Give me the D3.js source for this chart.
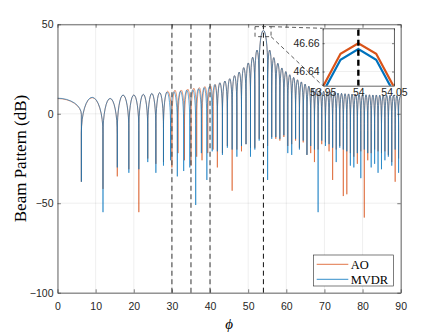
<!DOCTYPE html>
<html>
<head>
<meta charset="utf-8">
<script src="https://cdn.jsdelivr.net/npm/d3@7"></script>
<style>
body { margin: 0; background: #fff; }
svg { display: block; }
</style>
</head>
<body>
<div id="chart"></div>
<script>
// ---- data ----
var xTicks = [0, 10, 20, 30, 40, 50, 60, 70, 80, 90],
    yTicks = [-100, -50, 0, 50],
    interferers = [30, 35, 40],
    target = 54;

// null angles (deg) of each pattern
var mvdrNulls = [6.26, 11.93, 15.68, 18.71, 21.33, 23.67, 25.80, 27.79, 29.65, 31.42,
    33.09, 34.70, 36.24, 37.73, 39.17, 40.57, 41.92, 43.25, 44.54, 45.80,
    47.04, 48.25, 49.44, 50.61, 51.75, 52.89, 55.10, 56.18, 57.25, 58.31,
    59.36, 60.39, 61.42, 62.43, 63.44, 64.44, 65.42, 66.40, 67.38, 68.34,
    69.30, 70.26, 71.21, 72.15, 73.09, 74.02, 74.95, 75.87, 76.80, 77.71,
    78.63, 79.54, 80.45, 81.36, 82.26, 83.16, 84.06, 84.96, 85.86, 86.76,
    87.66, 88.55, 89.45];
var aoNulls = [6.26, 11.93, 15.68, 18.71, 21.33, 23.67, 25.80, 27.79, 30.00, 31.60,
    33.30, 35.00, 36.50, 37.90, 39.40, 40.80, 41.92, 43.25, 44.54, 45.80,
    47.04, 48.25, 49.44, 50.61, 51.75, 52.89, 55.10, 56.18, 57.25, 58.31,
    59.36, 60.39, 61.42, 62.43, 63.44, 64.44, 65.42, 66.40, 67.38, 68.34,
    69.30, 70.26, 71.21, 72.15, 73.09, 74.02, 74.95, 75.87, 76.80, 77.71,
    78.63, 79.54, 80.45, 81.36, 82.26, 83.16, 84.06, 84.96, 85.86, 86.76,
    87.66, 88.55, 89.45];

// depth (dB) at each null
var mvdrDepths = [-38, -55, -30, -33, -31, -27, -33, -29, -26, -35,
    -32, -30, -51, -22, -37, -21, -21, -23, -19, -20,
    -24, -18, -17, -24, -20, -15, -37, -14, -13, -14,
    -12, -22, -23, -14, -20, -15, -23, -18, -20, -55,
    -15, -18, -17, -19, -27, -19, -20, -21, -29, -30,
    -22, -36, -20, -22, -30, -28, -33, -31, -26, -24,
    -29, -20, -33];
var aoDepths = [-38, -42, -35, -31, -55, -25, -28, -27, -30, -22,
    -26, -29, -24, -26, -22, -20, -30, -22, -18, -43,
    -20, -21, -17, -19, -19, -14, -18, -13, -14, -15,
    -13, -18, -17, -15, -19, -16, -23, -22, -27, -20,
    -17, -16, -21, -37, -20, -18, -46, -45, -22, -24,
    -28, -21, -58, -26, -22, -20, -21, -22, -21, -23,
    -27, -38, -25];

// peak level (dB) of each lobe, lobe 0 runs from 0 deg to the first null
var mvdrPeaks = [8.7, 9.2, 8.6, 10.5, 10.5, 10.9, 11.4, 11.8, 12.2, 12.3,
    12.6, 13.2, 13.4, 14.0, 14.6, 15.2, 16.3, 17.3, 18.3, 19.6,
    21.3, 23.3, 25.8, 28.4, 31.6, 35.6, 46.66, 35.6, 31.4, 28.2,
    25.6, 23.6, 21.8, 20.3, 19.0, 17.8, 16.6, 15.4, 14.4, 13.6,
    13.0, 12.6, 12.3, 12.0, 11.8, 11.6, 11.4, 11.2, 11.1, 11.0,
    10.9, 10.8, 10.7, 10.6, 10.6, 10.5, 10.5, 10.4, 10.4, 10.3,
    10.3, 10.2, 10.2, 10.0];
var aoPeaks = [8.5, 9.0, 8.5, 10.4, 10.5, 10.8, 11.3, 11.8, 12.6, 13.2,
    13.3, 13.8, 14.3, 14.6, 15.2, 15.6, 16.4, 17.3, 18.3, 19.6,
    21.3, 23.3, 25.8, 28.4, 31.6, 35.6, 46.66, 35.6, 31.4, 28.2,
    25.6, 23.6, 21.8, 20.3, 19.0, 17.8, 16.6, 15.4, 14.4, 13.6,
    13.0, 12.6, 12.3, 12.0, 11.8, 11.6, 11.4, 11.2, 11.1, 11.0,
    10.9, 10.8, 10.7, 10.6, 10.6, 10.5, 10.5, 10.4, 10.4, 10.3,
    10.3, 10.2, 10.2, 10.0];

// zoomed inset around the main beam
var insetX = [53.95, 53.975, 54, 54.025, 54.05],
    aoInset = [46.629, 46.6525, 46.660, 46.6525, 46.629],
    mvdrInset = [46.625, 46.6483, 46.6558, 46.6483, 46.625],
    insetXTicks = [53.95, 54, 54.05],
    insetYTicks = [46.64, 46.66],
    zoomBoxX = [51.8, 56.0],
    zoomBoxY = [43.1, 48.7];

var seriesNames = ["AO", "MVDR"],
    colors = ["#D95319", "#0072BD"];

// ---- drawing ----
var width = 443, height = 332,
    plot = {left: 57.5, right: 400.7, top: 24.3, bottom: 292.7},
    ins = {left: 322.7, right: 394, top: 28.3, bottom: 85.7},
    axisColor = "#262626",
    lobeDrop = 20,   // dB between a lobe crest and where it falls straight into the null
    edgeDrop = 9;

var svg = d3.select("#chart").append("svg")
    .attr("width", width)
    .attr("height", height)
    .style("font-family", "'Liberation Sans', Arial, sans-serif");

var x = d3.scaleLinear().domain([0, 90]).range([plot.left, plot.right]),
    y = d3.scaleLinear().domain([-100, 50]).range([plot.bottom, plot.top]);

svg.append("defs").append("clipPath").attr("id", "plotclip")
    .append("rect")
    .attr("x", plot.left).attr("y", plot.top)
    .attr("width", plot.right - plot.left).attr("height", plot.bottom - plot.top);

// grid
var grid = svg.append("g").attr("stroke", axisColor).attr("stroke-opacity", 0.13).attr("stroke-width", 0.6);
grid.selectAll(".gx").data(xTicks).enter().append("line")
    .attr("x1", function (d) { return x(d); }).attr("x2", function (d) { return x(d); })
    .attr("y1", plot.top).attr("y2", plot.bottom);
grid.selectAll(".gy").data(yTicks).enter().append("line")
    .attr("y1", function (d) { return y(d); }).attr("y2", function (d) { return y(d); })
    .attr("x1", plot.left).attr("x2", plot.right);

// quarter ellipse from (x1,y1) to (x2,y2), bulging upward
function quarter(x1, y1, x2, y2) {
    return "A" + Math.abs(x2 - x1).toFixed(2) + "," + Math.abs(y2 - y1).toFixed(2) +
        " 0 0 1 " + x2.toFixed(2) + "," + y2.toFixed(2);
}

function beamPath(nulls, peaks, depths) {
    var n = nulls.length, d, i;
    var top0 = y(Math.max(peaks[0] - edgeDrop, depths[0]));
    d = "M" + x(0) + "," + y(peaks[0]) + quarter(x(0), y(peaks[0]), x(nulls[0]), top0) +
        "L" + x(nulls[0]) + "," + y(depths[0]);
    for (i = 1; i < n; i++) {
        var a = nulls[i - 1], b = nulls[i], mid = (a + b) / 2,
            yl = y(Math.max(peaks[i] - lobeDrop, depths[i - 1])),
            yr = y(Math.max(peaks[i] - lobeDrop, depths[i]));
        d += "L" + x(a) + "," + yl +
            quarter(x(a), yl, x(mid), y(peaks[i])) +
            quarter(x(mid), y(peaks[i]), x(b), yr) +
            "L" + x(b) + "," + y(depths[i]);
    }
    var last = nulls[n - 1],
        yl2 = y(Math.max(peaks[n] - edgeDrop, depths[n - 1]));
    d += "L" + x(last) + "," + yl2 + quarter(x(last), yl2, x(90), y(peaks[n]));
    return d;
}

var curves = svg.append("g").attr("clip-path", "url(#plotclip)")
    .attr("fill", "none").attr("stroke-width", 0.6).attr("stroke-linejoin", "round");
curves.append("path").attr("d", beamPath(aoNulls, aoPeaks, aoDepths)).attr("stroke", colors[0]);
curves.append("path").attr("d", beamPath(mvdrNulls, mvdrPeaks, mvdrDepths)).attr("stroke", colors[1]);

// interferer and target markers
svg.append("g").selectAll("line").data(interferers).enter().append("line")
    .attr("x1", function (d) { return x(d); }).attr("x2", function (d) { return x(d); })
    .attr("y1", plot.bottom).attr("y2", plot.top)
    .attr("stroke", "#555").attr("stroke-width", 1.2).attr("stroke-dasharray", "5,3.5");
svg.append("line")
    .attr("x1", x(target)).attr("x2", x(target))
    .attr("y1", plot.bottom).attr("y2", plot.top)
    .attr("stroke", "#111").attr("stroke-width", 1).attr("stroke-dasharray", "5,3.5");

// axes
function styleAxis(g) {
    g.select(".domain").attr("stroke", axisColor).attr("stroke-width", 0.7);
    g.selectAll(".tick line").attr("stroke", axisColor).attr("stroke-width", 0.6);
    g.selectAll(".tick text").attr("fill", axisColor).style("font-size", "10.5px");
}
svg.append("g").attr("transform", "translate(0," + plot.bottom + ")")
    .call(d3.axisBottom(x).tickValues(xTicks).tickSize(-3.4).tickSizeOuter(0).tickPadding(9.5))
    .call(styleAxis);
svg.append("g").attr("transform", "translate(0," + plot.top + ")")
    .call(d3.axisTop(x).tickValues(xTicks).tickSize(-3.4).tickSizeOuter(0).tickFormat(""))
    .call(styleAxis);
svg.append("g").attr("transform", "translate(" + plot.left + ",0)")
    .call(d3.axisLeft(y).tickValues(yTicks).tickSize(-3.4).tickSizeOuter(0).tickPadding(4))
    .call(styleAxis);
svg.append("g").attr("transform", "translate(" + plot.right + ",0)")
    .call(d3.axisRight(y).tickValues(yTicks).tickSize(-3.4).tickSizeOuter(0).tickFormat(""))
    .call(styleAxis);

// axis labels
svg.append("text")
    .attr("transform", "translate(26," + ((plot.top + plot.bottom) / 2) + ") rotate(-90)")
    .attr("text-anchor", "middle")
    .style("font-family", "'Liberation Serif', 'Times New Roman', serif")
    .style("font-size", "17px")
    .attr("fill", "#000")
    .text("Beam Pattern (dB)");
svg.append("text")
    .attr("x", (plot.left + plot.right) / 2).attr("y", 329)
    .attr("text-anchor", "middle")
    .style("font-family", "'Liberation Serif', 'Times New Roman', serif")
    .style("font-style", "italic")
    .style("font-size", "15px")
    .attr("fill", "#000")
    .text("\u03d5");

// zoom box and connectors
var dash = {"stroke": "#333", "stroke-width": 0.8, "stroke-dasharray": "4,3", "fill": "none"};
var zb = svg.append("rect")
    .attr("x", x(zoomBoxX[0])).attr("y", y(zoomBoxY[1]))
    .attr("width", x(zoomBoxX[1]) - x(zoomBoxX[0]))
    .attr("height", y(zoomBoxY[0]) - y(zoomBoxY[1]));
var c1 = svg.append("line")
    .attr("x1", x(zoomBoxX[1])).attr("y1", y(zoomBoxY[1]))
    .attr("x2", ins.left).attr("y2", ins.top);
var c2 = svg.append("line")
    .attr("x1", x(zoomBoxX[1])).attr("y1", y(zoomBoxY[0]))
    .attr("x2", ins.left).attr("y2", ins.bottom);
[zb, c1, c2].forEach(function (s) {
    for (var k in dash) s.attr(k, dash[k]);
});

// inset
var xi = d3.scaleLinear().domain([53.95, 54.05]).range([ins.left, ins.right]),
    yi = d3.scaleLinear().domain([46.63, 46.6705]).range([ins.bottom, ins.top]);

svg.append("clipPath").attr("id", "insclip")
    .append("rect")
    .attr("x", ins.left).attr("y", ins.top)
    .attr("width", ins.right - ins.left).attr("height", ins.bottom - ins.top);

var inset = svg.append("g");
inset.append("rect")
    .attr("x", ins.left).attr("y", ins.top)
    .attr("width", ins.right - ins.left).attr("height", ins.bottom - ins.top)
    .attr("fill", "#fff");
var ig = inset.append("g").attr("stroke", axisColor).attr("stroke-opacity", 0.13).attr("stroke-width", 0.6);
ig.selectAll(".ix").data(insetXTicks).enter().append("line")
    .attr("x1", function (d) { return xi(d); }).attr("x2", function (d) { return xi(d); })
    .attr("y1", ins.top).attr("y2", ins.bottom);
ig.selectAll(".iy").data(insetYTicks).enter().append("line")
    .attr("y1", function (d) { return yi(d); }).attr("y2", function (d) { return yi(d); })
    .attr("x1", ins.left).attr("x2", ins.right);

var iline = d3.line()
    .x(function (d, i) { return xi(insetX[i]); })
    .y(function (d) { return yi(d); });
var ic = inset.append("g").attr("clip-path", "url(#insclip)").attr("fill", "none")
    .attr("stroke-width", 2.2).attr("stroke-linejoin", "miter");
ic.append("path").attr("d", iline(aoInset)).attr("stroke", colors[0]);
ic.append("path").attr("d", iline(mvdrInset)).attr("stroke", colors[1]);
ic.append("line")
    .attr("x1", xi(target)).attr("x2", xi(target))
    .attr("y1", ins.bottom).attr("y2", ins.top)
    .attr("stroke", "#000").attr("stroke-width", 2.4).attr("stroke-dasharray", "6,4");

inset.append("g").attr("transform", "translate(0," + ins.bottom + ")")
    .call(d3.axisBottom(xi).tickValues(insetXTicks).tickSize(-2).tickSizeOuter(0).tickPadding(3)
        .tickFormat(d3.format("")))
    .call(styleAxis);
inset.append("g").attr("transform", "translate(0," + ins.top + ")")
    .call(d3.axisTop(xi).tickValues(insetXTicks).tickSize(-2).tickSizeOuter(0).tickFormat(""))
    .call(styleAxis);
inset.append("g").attr("transform", "translate(" + ins.left + ",0)")
    .call(d3.axisLeft(yi).tickValues(insetYTicks).tickSize(-2).tickSizeOuter(0).tickPadding(3)
        .tickFormat(d3.format(".2f")))
    .call(styleAxis);
inset.append("g").attr("transform", "translate(" + ins.right + ",0)")
    .call(d3.axisRight(yi).tickValues(insetYTicks).tickSize(-2).tickSizeOuter(0).tickFormat(""))
    .call(styleAxis);

// legend
var legend = svg.append("g");
legend.append("rect")
    .attr("x", 313.3).attr("y", 255).attr("width", 80).attr("height", 31)
    .attr("fill", "#fff").attr("stroke", axisColor).attr("stroke-width", 0.6);
var items = legend.selectAll(".item").data(seriesNames).enter().append("g")
    .attr("transform", function (d, i) { return "translate(316.7," + (264.3 + i * 15) + ")"; });
items.append("line").attr("x1", 0).attr("x2", 31.6)
    .attr("stroke", function (d, i) { return colors[i]; }).attr("stroke-width", 0.8);
items.append("text").attr("x", 34).attr("y", 4.3)
    .style("font-family", "'Liberation Serif', 'Times New Roman', serif")
    .style("font-size", "12.5px")
    .attr("fill", "#000")
    .text(function (d) { return d; });
</script>
</body>
</html>
